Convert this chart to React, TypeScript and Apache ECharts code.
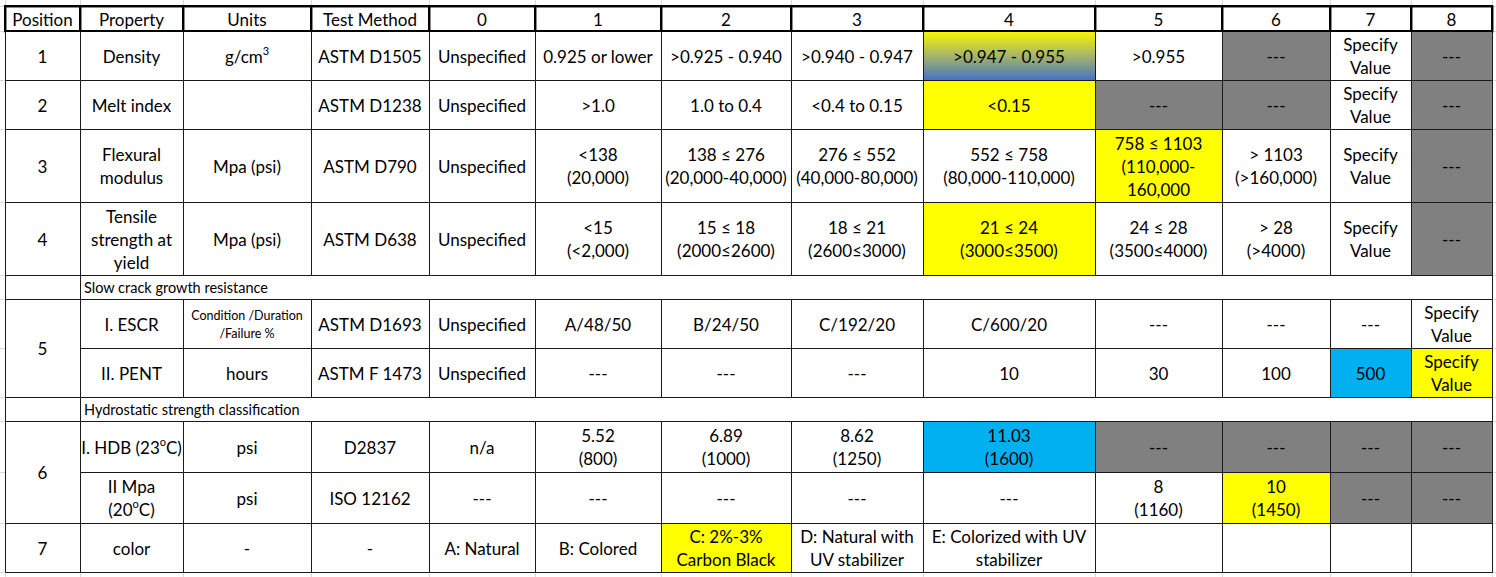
import React, { useEffect, useRef } from "react";
import * as echarts from "echarts";

// ---------- data ----------
const headerLabels = ["Position", "Property", "Units", "Test Method", "0", "1", "2", "3", "4", "5", "6", "7", "8"];
const positionLabels = ["1", "2", "3", "4", "5", "6", "7"];
const sectionTitles = ["Slow crack growth resistance", "Hydrostatic strength classification"];

const densityRow = ["Density", "g/cm{sup|3}", "ASTM D1505", "Unspecified", "0.925 or lower", ">0.925 - 0.940", ">0.940 - 0.947", ">0.947 - 0.955", ">0.955", "---", "Specify\nValue", "---"];
const densityFill = ["", "", "", "", "", "", "", "D", "", "G", "", "G"];

const meltRow = ["Melt index", "", "ASTM D1238", "Unspecified", ">1.0", "1.0 to 0.4", "<0.4 to 0.15", "<0.15", "---", "---", "Specify\nValue", "---"];
const meltFill = ["", "", "", "", "", "", "", "Y", "G", "G", "", "G"];

const flexRow = ["Flexural\nmodulus", "Mpa (psi)", "ASTM D790", "Unspecified", "<138\n(20,000)", "138 ≤ 276\n(20,000-40,000)", "276 ≤ 552\n(40,000-80,000)", "552 ≤ 758\n(80,000-110,000)", "758 ≤ 1103\n(110,000-\n160,000", "> 1103\n(>160,000)", "Specify\nValue", "---"];
const flexFill = ["", "", "", "", "", "", "", "", "Y", "", "", "G"];

const tensileRow = ["Tensile\nstrength at\nyield", "Mpa (psi)", "ASTM D638", "Unspecified", "<15\n(<2,000)", "15 ≤ 18\n(2000≤2600)", "18 ≤ 21\n(2600≤3000)", "21 ≤ 24\n(3000≤3500)", "24 ≤ 28\n(3500≤4000)", "> 28\n(>4000)", "Specify\nValue", "---"];
const tensileFill = ["", "", "", "", "", "", "", "Y", "", "", "", "G"];

const escrRow = ["I. ESCR", "Condition /Duration\n/Failure %", "ASTM D1693", "Unspecified", "A/48/50", "B/24/50", "C/192/20", "C/600/20", "---", "---", "---", "Specify\nValue"];
const escrFill = ["", "", "", "", "", "", "", "", "", "", "", ""];

const pentRow = ["II. PENT", "hours", "ASTM F 1473", "Unspecified", "---", "---", "---", "10", "30", "100", "500", "Specify\nValue"];
const pentFill = ["", "", "", "", "", "", "", "", "", "", "B", "Y"];

const hdbRow = ["I. HDB (23{sup|o}C)", "psi", "D2837", "n/a", "5.52\n(800)", "6.89\n(1000)", "8.62\n(1250)", "11.03\n(1600)", "---", "---", "---", "---"];
const hdbFill = ["", "", "", "", "", "", "", "B", "G", "G", "G", "G"];

const mpaRow = ["II Mpa\n(20{sup|o}C)", "psi", "ISO 12162", "---", "---", "---", "---", "---", "8\n(1160)", "10\n(1450)", "---", "---"];
const mpaFill = ["", "", "", "", "", "", "", "", "", "Y", "G", "G"];

const colorRow = ["color", "-", "-", "A: Natural", "B: Colored", "C: 2%-3%\nCarbon Black", "D: Natural with\nUV stabilizer", "E: Colorized with UV\nstabilizer", "", "", "", ""];
const colorFill = ["", "", "", "", "", "Y", "", "", "", "", "", ""];

// ---------- layout ----------
const COL_X = [5, 80, 183, 311, 429, 535, 661, 791, 923, 1095, 1222, 1330, 1411, 1492];
const ROW_Y = [6, 31, 80, 129, 202, 275, 299, 348, 397, 421, 472, 523, 572];
const BODY = [
  { r: 1, cells: densityRow, fills: densityFill },
  { r: 2, cells: meltRow, fills: meltFill },
  { r: 3, cells: flexRow, fills: flexFill },
  { r: 4, cells: tensileRow, fills: tensileFill },
  { r: 6, cells: escrRow, fills: escrFill },
  { r: 7, cells: pentRow, fills: pentFill },
  { r: 9, cells: hdbRow, fills: hdbFill },
  { r: 10, cells: mpaRow, fills: mpaFill },
  { r: 11, cells: colorRow, fills: colorFill },
];
const POS_SPANS = [[1, 1], [2, 2], [3, 3], [4, 4], [6, 7], [9, 10], [11, 11]];
const SECTION_ROWS = [5, 8];

const FONT = "Lato, 'Noto Sans', sans-serif";
const FS = 17;
const LH = 23;

function fillOf(code: string): any {
  if (code === "Y") return "#ffff00";
  if (code === "G") return "#808080";
  if (code === "B") return "#00b0f0";
  if (code === "D")
    return new echarts.graphic.LinearGradient(0, 0, 0, 1, [
      { offset: 0, color: "#f7f700" },
      { offset: 0.5, color: "#a6b46a" },
      { offset: 1, color: "#4472c4" },
    ]);
  return "#ffffff";
}

function buildGraphics() {
  const rects: any[] = [];
  const texts: any[] = [];
  const lines: any[] = [];

  COL_X.forEach((x) => {
    lines.push({ type: "line", z: 0, shape: { x1: x + 0.5, y1: 0, x2: x + 0.5, y2: 577 }, style: { stroke: "#d9d9d9", lineWidth: 1 } });
  });
  ROW_Y.forEach((y) => {
    lines.push({ type: "line", z: 0, shape: { x1: 0, y1: y + 0.5, x2: 1496, y2: y + 0.5 }, style: { stroke: "#d9d9d9", lineWidth: 1 } });
  });

  const cell = (c0: number, c1: number, r0: number, r1: number, text: string, fill: any, opts: any = {}) => {
    const x = COL_X[c0];
    const y = ROW_Y[r0];
    const w = COL_X[c1 + 1] - x;
    const h = ROW_Y[r1 + 1] - y;
    rects.push({
      type: "rect",
      z: 1,
      shape: { x: x + 0.5, y: y + 0.5, width: w, height: h },
      style: { fill, stroke: "#1a1a1a", lineWidth: opts.lw || 1 },
    });
    if (text) {
      const left = opts.align === "left";
      const fs = opts.fs || FS;
      texts.push({
        type: "text",
        z: 3,
        x: left ? x + 4 : x + w / 2,
        y: y + h / 2 + 0.5,
        style: {
          text,
          align: left ? "left" : "center",
          verticalAlign: "middle",
          fontFamily: FONT,
          fontSize: fs,
          lineHeight: opts.lh || LH,
          fill: "#000000",
          rich: {
            sup: {
              fontFamily: FONT,
              fontSize: Math.round(fs * 0.62),
              fill: "#000000",
              verticalAlign: "top",
              lineHeight: opts.lh || LH,
              padding: [0, 0, 9, 0],
            },
          },
        },
      });
    }
  };

  headerLabels.forEach((t, i) => cell(i, i, 0, 0, t, "#ffffff", { lw: 2 }));

  POS_SPANS.forEach((sp, i) => cell(0, 0, sp[0], sp[1], positionLabels[i], "#ffffff"));

  SECTION_ROWS.forEach((r, i) => {
    cell(0, 0, r, r, "", "#ffffff");
    cell(1, 12, r, r, sectionTitles[i], "#ffffff", { align: "left", fs: 14.5, lh: 18 });
  });

  BODY.forEach((row) => {
    row.cells.forEach((t, j) => {
      const small = row.r === 6 && j === 1;
      cell(j + 1, j + 1, row.r, row.r, t, fillOf(row.fills[j]), small ? { fs: 12.5, lh: 18 } : {});
    });
  });

  headerLabels.forEach((_, i) => {
    const x = COL_X[i];
    const w = COL_X[i + 1] - x;
    lines.push({
      type: "rect",
      z: 2,
      shape: { x, y: ROW_Y[0], width: w, height: ROW_Y[1] - ROW_Y[0] },
      style: { fill: "none", stroke: "#000000", lineWidth: 2 },
    });
  });

  return [...lines.filter((l) => l.z === 0), ...rects, ...lines.filter((l) => l.z === 2), ...texts];
}

export default function App() {
  const ref = useRef<HTMLDivElement>(null);
  useEffect(() => {
    document.body.style.margin = "0";
    if (!ref.current) return;
    const chart = echarts.init(ref.current, null, { renderer: "svg" });
    chart.setOption({
      animation: false,
      backgroundColor: "#ffffff",
      graphic: { elements: buildGraphics() },
    });
    return () => chart.dispose();
  }, []);
  return <div ref={ref} style={{ position: "absolute", left: 0, top: 0, width: 1496, height: 577 }} />;
}
